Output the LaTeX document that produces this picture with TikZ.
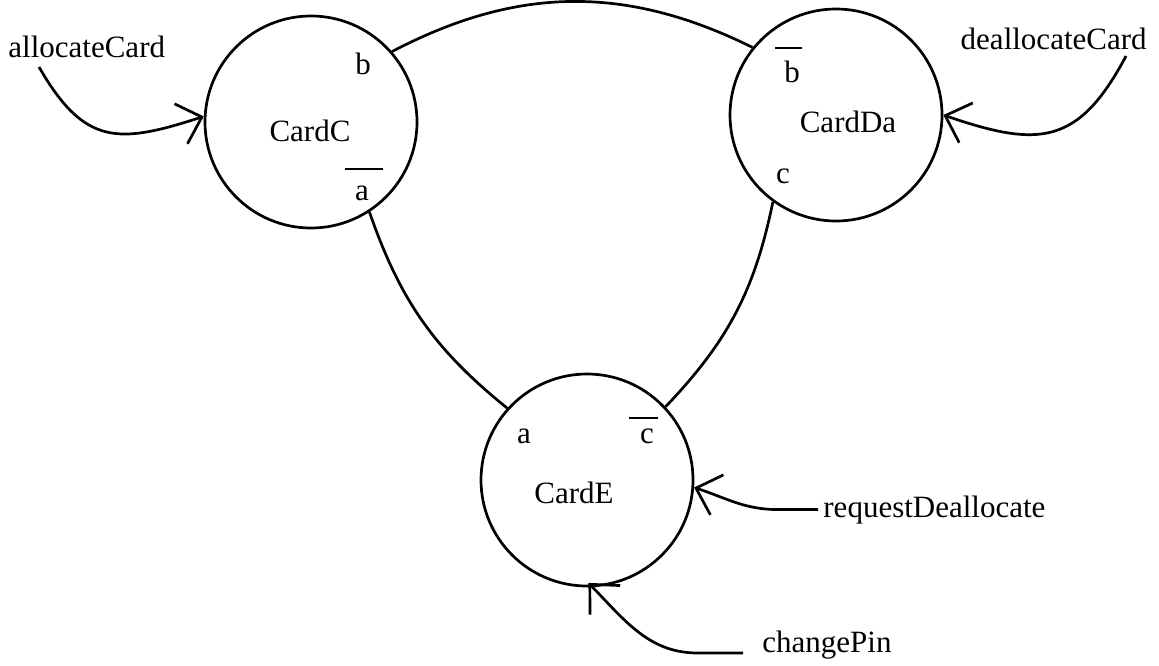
\documentclass[tikz,border=0pt]{standalone}
\usepackage{fontspec}
\setmainfont{Liberation Serif}
\usetikzlibrary{arrows.meta}
\begin{document}
\begin{tikzpicture}[x=0.5pt,y=-0.5pt,
  state/.style={circle,draw,line width=1.35pt,minimum size=106pt,inner sep=0pt},
  txt/.style={inner sep=0pt,font=\fontsize{15.5pt}{18pt}\selectfont},
  link/.style={line width=1.35pt},
  inarrow/.style={line width=1.35pt,-{Straight Barb[length=11pt,width=21pt]}},
  overbar/.style={line width=1.1pt}]
\useasboundingbox (0,0) rectangle (1159,665);
% states
\node[state] (C) at (311,122) {};
\node[state] (Da) at (836,115) {};
\node[state] (E) at (587,480) {};
\node[txt,anchor=base] (Ct) at (310,141) {CardC};
\node[txt,anchor=base] (Dt) at (848,132) {CardDa};
\node[txt,anchor=base] (Et) at (574,503) {CardE};
% port labels
\node[txt,anchor=base] (Cb) at (363,74) {b};
\node[txt,anchor=base] (Ca) at (362,200) {a};
\draw[overbar] ([shift={(-17,-31)}]Ca.base) -- ++(38,0);
\node[txt,anchor=base] (Db) at (792,82) {b};
\draw[overbar] ([shift={(-17,-34)}]Db.base) -- ++(27,0);
\node[txt,anchor=base] (Dc) at (783,183) {c};
\node[txt,anchor=base] (Ea) at (524,443) {a};
\node[txt,anchor=base] (Ec) at (647,443) {c};
\draw[overbar] ([shift={(-18,-25)}]Ec.base) -- ++(29,0);
% links
\draw[link] (C.41) to[bend left=27] (Da.141);
\draw[link] (C.-57) to[bend right=16] (E.138);
\draw[link] (Da.-126) to[bend left=16] (E.43);
% inputs
\node[txt,anchor=base west] (alloc) at (8,57) {allocateCard};
\coordinate (allocS) at (39,67);
\draw[inarrow] (allocS) to[out=-60,in=198,looseness=1.35] (C.177);
\node[txt,anchor=base east] (dealloc) at (1147,49) {deallocateCard};
\coordinate (deallocS) at (1126,56);
\draw[inarrow] (deallocS) to[out=-118,in=-19,looseness=1.35] (Da.0);
\node[txt,anchor=base west] (req) at (823,517) {requestDeallocate};
\draw[inarrow,shorten <=2.5pt] (req.west) -- ++(-45,0) to[out=180,in=-18] (E.-4);
\node[txt,anchor=base west] (pin) at (762,652) {changePin};
\coordinate (pinS) at (743,653);
\draw[inarrow,shorten >=-3pt] (pinS) -- ++(-45,0) to[out=180,in=-46] (E.-87);
\end{tikzpicture}
\end{document}
